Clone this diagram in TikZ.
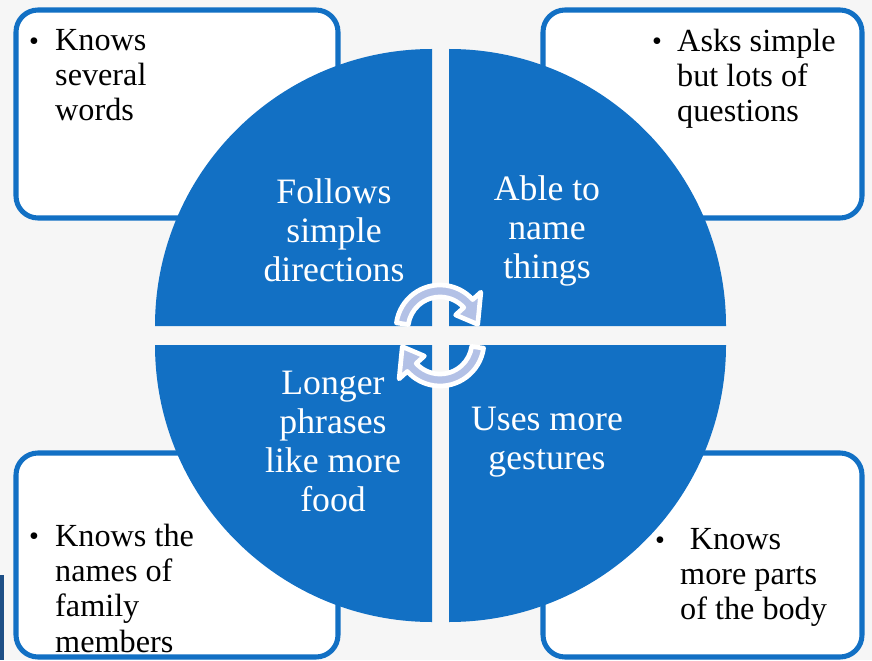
\documentclass[tikz,border=0pt]{standalone}
\usepackage{fontspec}
\setmainfont{Liberation Serif}
\usetikzlibrary{positioning, calc}
\definecolor{cyblue}{HTML}{1270C4}
\definecolor{cyarrow}{HTML}{B3C1E6}
\definecolor{cyback}{HTML}{F6F6F6}
\definecolor{cybar}{HTML}{1D4F86}

\begin{document}
\begin{tikzpicture}[x=0.03cm, y=0.03cm,
    box/.style={rounded corners=0.66cm, draw=cyblue, fill=white, line width=4.3pt},
    quad/.style={fill=cyblue},
    quadtext/.style={font=\fontsize{30.5}{33.3}\selectfont, text=white, align=center, inner sep=0pt},
    itemtext/.style={font=\fontsize{27.5}{30}\selectfont, align=left, inner sep=0pt, anchor=north west},
    bullettext/.style={font=\fontsize{24}{26}\selectfont, inner sep=0pt},
    turn/.style={fill=cyarrow, draw=white, line width=4pt, line join=round}
]

% Background
\fill[cyback] (0,0) rectangle (872,660);
\useasboundingbox (0,0) rectangle (872,660);
\fill[cybar] (0,0) rectangle (4,85);

% Outer boxes
\draw[box] (16,442) rectangle (338,650);
\draw[box] (543,442) rectangle (862,650);
\draw[box] (16,3) rectangle (338,207);
\draw[box] (543,3) rectangle (862,207);

% Quarter circles
\coordinate (ctl) at (432,334);
\coordinate (ctr) at (449,334);
\coordinate (cbl) at (432,315);
\coordinate (cbr) at (449,315);
\fill[quad] (ctl) -- ++(-277,0) arc[start angle=180, end angle=90, radius=277] -- cycle;
\fill[quad] (ctr) -- ++(277,0) arc[start angle=0, end angle=90, radius=277] -- cycle;
\fill[quad] (cbl) -- ++(-277,0) arc[start angle=180, end angle=270, radius=277] -- cycle;
\fill[quad] (cbr) -- ++(277,0) arc[start angle=0, end angle=-90, radius=277] -- cycle;

% Quarter labels
\node[quadtext] (follow) at (334,430) {Follows\\simple\\directions};
\node[quadtext] (name) at (547,429) {Able to\\name\\things};
\node[quadtext] (phrase) at (333,219) {Longer\\phrases\\like more\\food};
\node[quadtext] (gesture) at (547,218) {Uses more\\gestures};

% Cycle arrows
\coordinate (ua) at (440,331);
\coordinate (la) at (440,318);
\draw[turn] ($(ua)+(172:44)$) arc[start angle=172, end angle=42, radius=44]
    -- ($(ua)+(42:55)$) -- ($(ua)+(7:38)$) -- ($(ua)+(42:21)$)
    -- ($(ua)+(42:32)$) arc[start angle=42, end angle=172, radius=32] -- cycle;
\draw[turn] ($(la)+(-8:44)$) arc[start angle=-8, end angle=-138, radius=44]
    -- ($(la)+(-138:55)$) -- ($(la)+(-173:38)$) -- ($(la)+(-138:21)$)
    -- ($(la)+(-138:32)$) arc[start angle=-138, end angle=-8, radius=32] -- cycle;

% Box texts
\node[itemtext] (words) at (55,631) {Knows\\several\\words};
\node[bullettext] (wordsdot) at (34,616) {\textbullet};
\node[itemtext] (asks) at (677,631) {Asks simple\\but lots of\\questions};
\node[bullettext] (asksdot) at (657,616) {\textbullet};
\node[itemtext] (family) at (55,136) {Knows the\\names of\\family\\members};
\node[bullettext] (familydot) at (34,121) {\textbullet};
\node[itemtext] (body) at (680,132) {\hspace*{0.3em}Knows\\more parts\\of the body};
\node[bullettext] (bodydot) at (660,117) {\textbullet};

\end{tikzpicture}
\end{document}
